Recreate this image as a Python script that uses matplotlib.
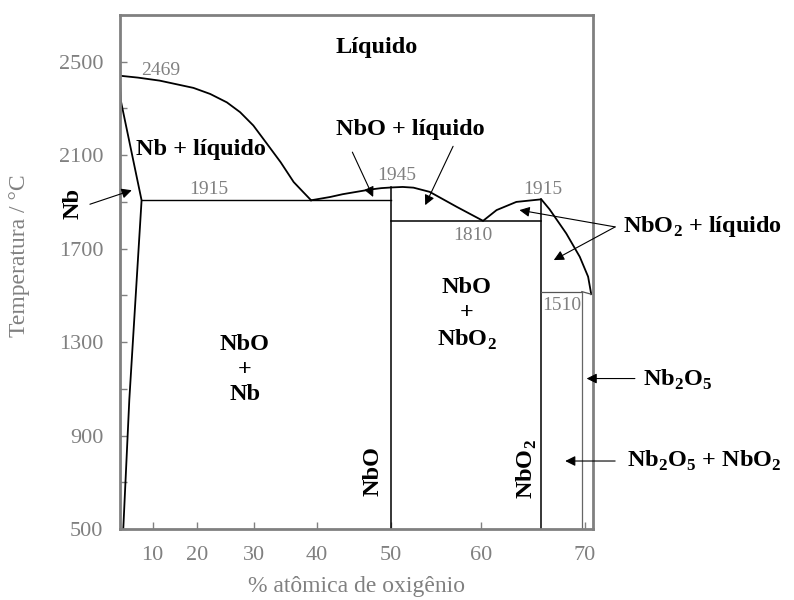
import numpy as np
import matplotlib.pyplot as plt

# composition axis is not linear in the original; tick positions
scale_at = [-20, 0, 10, 20, 30, 40, 50, 60, 70, 100]
scale_pos = [54.6, 120, 152.7, 197, 254.5, 316.7, 391, 481, 585, 897]

x_ticks = [10, 20, 30, 40, 50, 60, 70]
y_ticks = [500, 900, 1300, 1700, 2100, 2500]
y_minor = [700, 1100, 1500, 1900, 2300]

# Nb-rich liquidus and solidus/solvus
nb_liq_x = [0, 5.5, 11.6, 19.2, 22.3, 25.2, 27.5, 29.8, 32.0, 34.2, 36.3, 37.8, 39.1]
nb_liq_T = [2440, 2432, 2419, 2388, 2362, 2326, 2284, 2227, 2149, 2070, 1985, 1943, 1907]
nb_sol_x = [0, 0.1, 0.3, 6.6, 2.85, 1.0]
nb_sol_T = [2440, 2390, 2330, 1907, 1054, 500]

# liquidus between the eutectic and Nb2O5
ox_liq_x = [39.1, 41.8, 43.5, 47.2, 48.7, 50.1, 51.3, 52.5, 54.3, 57.3, 60.2,
            61.5, 63.4, 65.8, 66.6, 68.2, 69.5, 70.3, 70.6]
ox_liq_T = [1907, 1921, 1933, 1953, 1959, 1962, 1964, 1961, 1943, 1879, 1819,
            1865, 1900, 1911, 1868, 1765, 1665, 1580, 1505]

# invariant lines and compounds
eutectic_x = [6.6, 50.0]
eutectic_T = 1907
nbo_x = 50.0
nbo_top = 1962
nbo2_x = 65.8
nbo2_top = 1911
eut2_T = 1819
peri_T = 1516
nb2o5_x = 69.7
liq_end = (70.6, 1505)

# text labels: (text, x, T)
phase_labels = [
    ("Líquido", 48.1, 2560),
    ("Nb + líquido", 20.7, 2125),
    ("NbO + líquido", 52.1, 2209),
    ("NbO\n+\nNb", 28.3, 1182),
    ("NbO\n+\nNbO$_\\mathbf{2}$", 58.4, 1417),
]
rot_labels = [
    ("NbO", 47.6, 749),
    ("NbO$_\\mathbf{2}$", 64.4, 756),
    ("Nb", -14.5, 1894),
]
side_labels = [
    ("NbO$_\\mathbf{2}$ + líquido", 73.65, 1793),
    ("Nb$_\\mathbf{2}$O$_\\mathbf{5}$", 75.6, 1140),
    ("Nb$_\\mathbf{2}$O$_\\mathbf{5}$ + NbO$_\\mathbf{2}$", 74.0, 791),
]
temp_labels = [
    ("2469", 11.8, 2462),
    ("1915", 22.1, 1954),
    ("1945", 50.6, 2014),
    ("1810", 59.1, 1758),
    ("1915", 65.9, 1954),
    ("1510", 67.8, 1455),
]
# arrows: (tail x, tail T, head x, head T)
arrows = [
    (-9.2, 1890, 3.6, 1950),
    (44.8, 2113, 47.6, 1921),
    (56.9, 2138, 53.8, 1886),
    (72.9, 1793, 63.7, 1865),
    (72.9, 1793, 67.0, 1651),
    (74.8, 1144, 70.16, 1144),
    (72.9, 791, 68.1, 791),
]


def fwd(x):
    return np.interp(x, scale_at, scale_pos)


def inv(p):
    return np.interp(p, scale_pos, scale_at)


plt.rcParams['font.family'] = ['Liberation Serif', 'DejaVu Serif']
plt.rcParams['mathtext.fontset'] = 'custom'
plt.rcParams['mathtext.rm'] = 'Liberation Serif'
plt.rcParams['mathtext.bf'] = 'Liberation Serif:bold'

gray = '#808080'

fig = plt.figure(figsize=(7.94, 6), dpi=100)
ax = fig.add_axes([120 / 794, 1 - 529 / 600, (593.3 - 120) / 794, (529 - 15) / 600])
ax.set_xscale('function', functions=(fwd, inv))
ax.set_xlim(0, 70.8)
ax.set_ylim(500, 2700)

for s in ax.spines.values():
    s.set_color(gray)
    s.set_linewidth(2.0)
ax.set_xticks(x_ticks)
ax.set_xticks([], minor=True)
ax.set_yticks(y_ticks)
ax.set_yticks(y_minor, minor=True)
ax.tick_params(which='both', direction='in', length=5, width=1, color=gray,
               labelcolor=gray, labelsize=16, pad=12)
ax.tick_params(which='minor', labelleft=False)

ax.set_xlabel("% atômica de oxigênio", color=gray, fontsize=17, labelpad=8)
ax.set_ylabel("Temperatura / °C", color=gray, fontsize=17)
ax.yaxis.set_label_coords(-0.19, 0.531)

k = dict(color='black', lw=1.3, solid_joinstyle='round')
ax.plot(nb_liq_x, nb_liq_T, **k)
ax.plot(nb_sol_x, nb_sol_T, **k)
ax.plot(ox_liq_x, ox_liq_T, **k)
ax.plot(eutectic_x, [eutectic_T] * 2, color='black', lw=1.0)
ax.plot([nbo_x, nbo_x], [nbo_top, 500], color='black', lw=1.1)
ax.plot([nbo2_x, nbo2_x], [nbo2_top, 500], color='black', lw=1.1)
ax.plot([nbo_x, nbo2_x], [eut2_T] * 2, color='black', lw=1.1)
ax.plot([nbo2_x, nb2o5_x], [peri_T] * 2, color='#555555', lw=0.9)
ax.plot([nb2o5_x, nb2o5_x], [peri_T, 500], color='#666666', lw=0.9)
ax.plot([nb2o5_x, liq_end[0]], [peri_T, liq_end[1]], color='#555555', lw=0.9)

bold = dict(fontsize=17.5, fontweight='bold', color='black')
for txt, x, t in phase_labels:
    ax.text(x, t, txt, ha='center', va='center', linespacing=1.25, **bold)
for txt, x, t in rot_labels:
    ax.text(x, t, txt, ha='center', va='center', rotation=90, clip_on=False, **bold)
for txt, x, t in side_labels:
    ax.text(x, t, txt, ha='left', va='center', clip_on=False, **bold)
for txt, x, t in temp_labels:
    ax.text(x, t, txt, ha='center', va='center', fontsize=14, color=gray)

for x0, t0, x1, t1 in arrows:
    ax.annotate('', xy=(x1, t1), xytext=(x0, t0), annotation_clip=False,
                arrowprops=dict(arrowstyle='-|>', color='black', lw=0.8,
                                mutation_scale=15, shrinkA=0, shrinkB=0))

fig.savefig('out.png', dpi=100)
